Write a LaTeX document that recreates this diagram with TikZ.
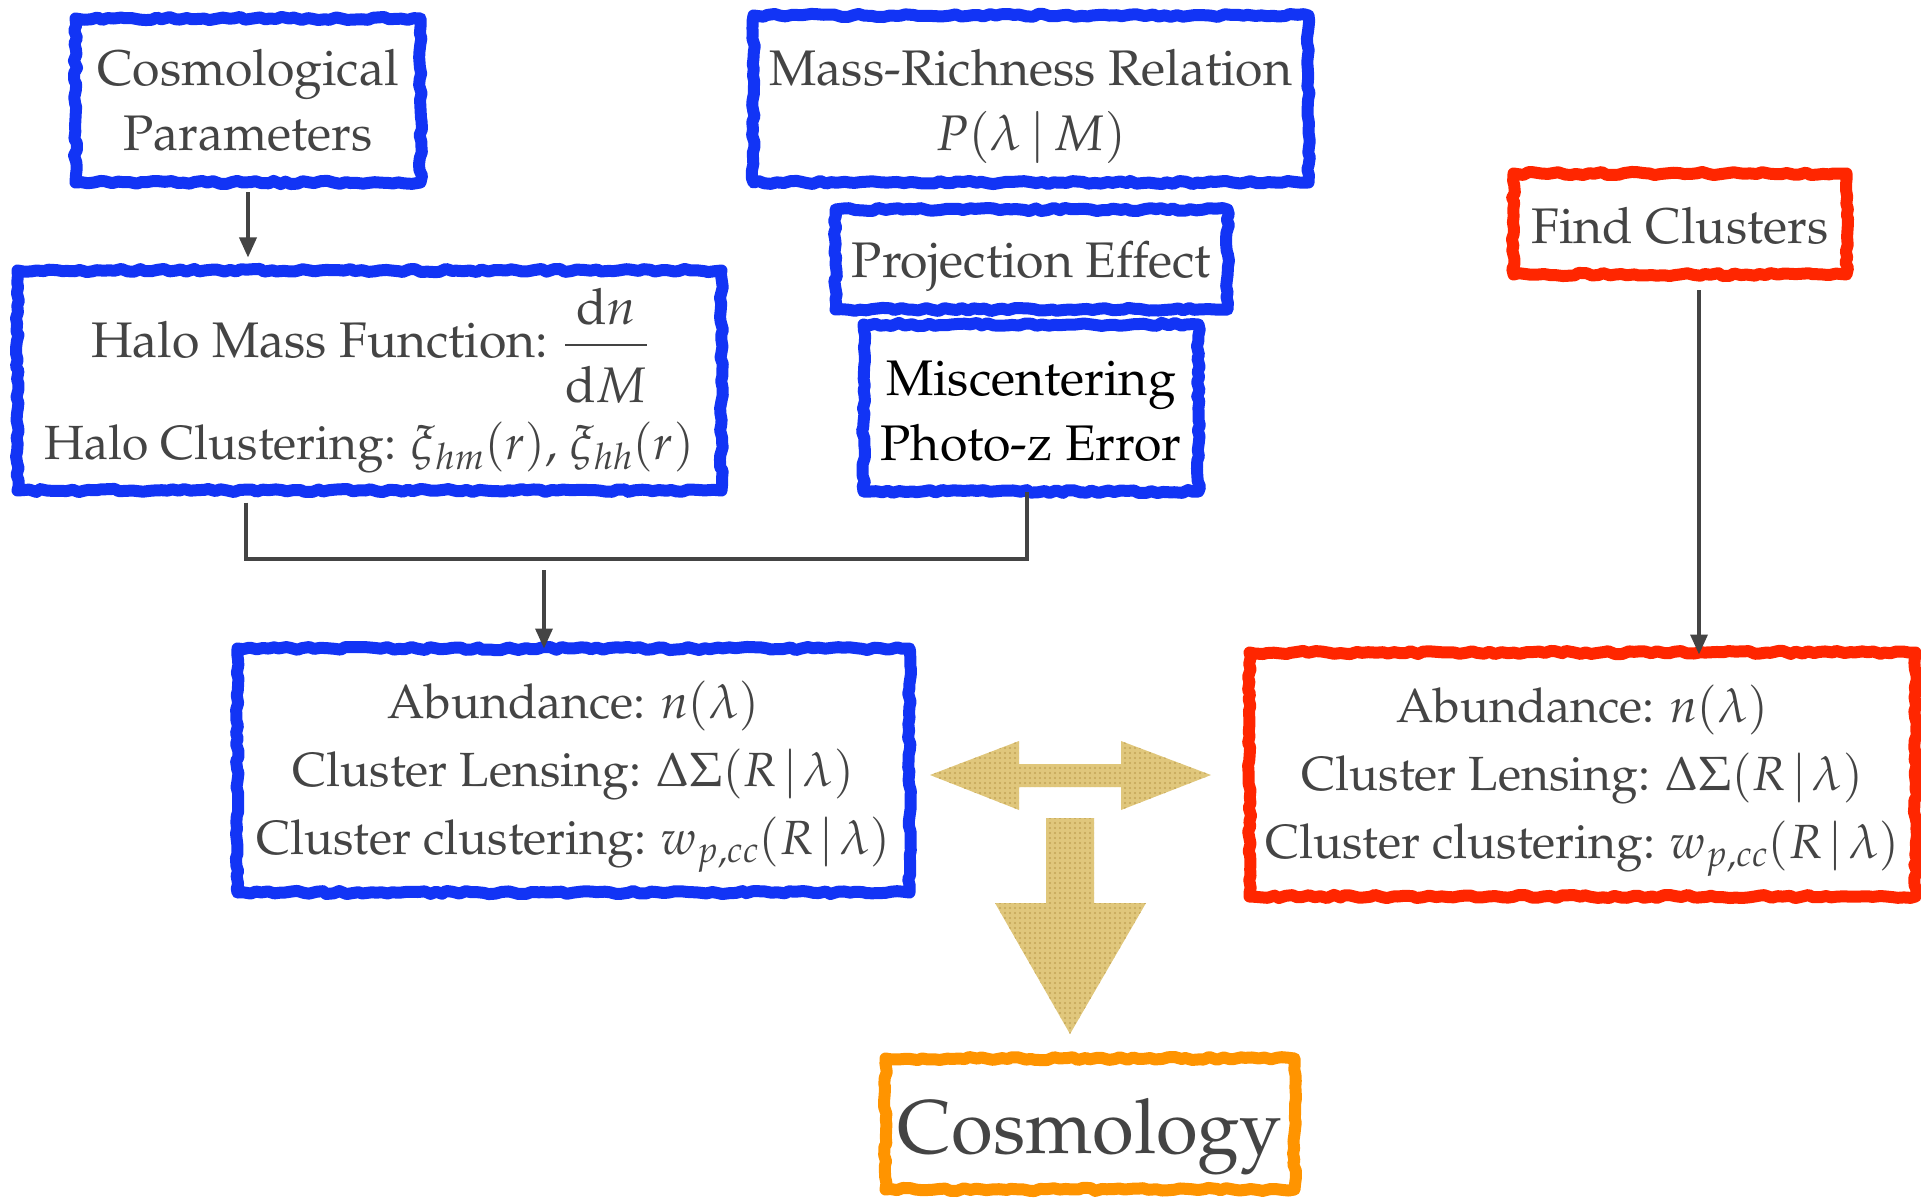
\documentclass[tikz,border=0pt]{standalone}
\usepackage{amsmath}
\usepackage[T1]{fontenc}
\usepackage{mathpazo}
\usetikzlibrary{decorations.pathmorphing,arrows.meta,patterns.meta}
\definecolor{tgray}{HTML}{444444}
\definecolor{cblue}{RGB}{18,52,245}
\definecolor{cred}{RGB}{255,38,0}
\definecolor{corange}{RGB}{255,148,0}
\definecolor{cgold}{RGB}{224,199,124}
\definecolor{cgolddot}{RGB}{196,166,88}
\tikzset{
  skbox/.style={draw=#1, line width=12pt, decorate,
    decoration={random steps, segment length=6pt, amplitude=1.6pt},
    line join=round, inner sep=0pt, align=center, text=tgray,
    font=\fontsize{50}{65}\selectfont},
  conn/.style={draw=tgray, line width=3.5pt},
  arr/.style={conn, -{Triangle[length=20pt,width=17pt]}},
  goldarrow/.style={fill=cgold, draw=none},
  golddots/.style={pattern={Dots[distance=5pt, radius=1.1pt]}, pattern color=cgolddot},
}
\newcommand{\up}[1]{\rule{0pt}{#1}}
\begin{document}
\pgfmathsetseed{7}
\begin{tikzpicture}[x=1pt,y=-1pt]
\path[use as bounding box] (0,0) rectangle (1921,1198);
\clip (0,0) rectangle (1921,1198);
% boxes
\node[skbox=cblue, minimum width=345pt, minimum height=164pt] (cosmo) at (248,100.5)
  {Cosmological\\Parameters};
\node[skbox=cblue, minimum width=704pt, minimum height=220pt] (halo) at (369.5,380.5)
  {Halo Mass Function: $\dfrac{\mathrm{d}n\rule[-14pt]{0pt}{0pt}}{\rule{0pt}{50pt}\mathrm{d}M}$\\[18pt]
   {\fontsize{48}{60}\selectfont Halo Clustering: $\xi_{hm}(r)$, $\xi_{hh}(r)$}};
\node[skbox=cblue, minimum width=555pt, minimum height=167pt] (mrr) at (1031,99)
  {\up{52pt}Mass-Richness Relation\\$P(\lambda\,|\,M)$};
\node[skbox=cblue, minimum width=392pt, minimum height=100pt] (proj) at (1031.5,259.5)
  {\up{50pt}Projection Effect};
\node[skbox=cblue, minimum width=335pt, minimum height=167pt, text=black] (misc) at (1031,408)
  {\up{42pt}Miscentering\\Photo-z Error};
\node[skbox=cred, minimum width=333pt, minimum height=101pt] (find) at (1680,224)
  {\up{40pt}Find Clusters};
\node[skbox=cblue, minimum width=672pt, minimum height=244pt,
      font=\fontsize{48}{68}\selectfont] (obsL) at (573.5,770.5)
  {\up{50pt}Abundance: $n(\lambda)$\\
   Cluster Lensing: $\Delta\Sigma(R\mskip2mu|\mskip2mu\lambda)$\\
   Cluster clustering: $w_{p,cc}(R\mskip2mu|\mskip2mu\lambda)$};
\node[skbox=cred, minimum width=666pt, minimum height=244pt,
      font=\fontsize{48}{68}\selectfont] (obsR) at (1582.5,774.5)
  {\up{50pt}Abundance: $n(\lambda)$\\
   Cluster Lensing: $\Delta\Sigma(R\mskip2mu|\mskip2mu\lambda)$\\
   Cluster clustering: $w_{p,cc}(R\mskip2mu|\mskip2mu\lambda)$};
\node[skbox=corange, minimum width=409pt, minimum height=131pt,
      font=\fontsize{76}{90}\selectfont] (cosmology) at (1090,1124)
  {\up{80pt}Cosmology};
% connectors
\coordinate (j1) at (246,559);
\coordinate (j2) at (1027,559);
\coordinate (js) at (544,570);
\coordinate (fs) at (1699,290);
\draw[arr, shorten <=4pt, shorten >=7pt] (cosmo.south) -- (cosmo.south |- halo.north);
\draw[conn] (halo.south -| j1) ++(0,6) -- (j1) -- (j2) -- ([yshift=6pt]misc.south -| j2);
\draw[arr] (js) -- ([yshift=-6pt]js |- obsL.north);
\draw[arr] (fs) -- ([yshift=-8pt]fs |- obsR.north);
% gold arrows
\foreach \sty in {goldarrow,golddots}{
\path[\sty] (930,775) -- (1019,741) -- (1019,764) -- (1121,764) -- (1121,741)
  -- (1211,775) -- (1121,810) -- (1121,787) -- (1019,787) -- (1019,810) -- cycle;
\path[\sty] (1046,818) -- (1094,818) -- (1094,903) -- (1146,903) -- (1070,1034)
  -- (995,903) -- (1046,903) -- cycle;
}
\end{tikzpicture}
\end{document}
